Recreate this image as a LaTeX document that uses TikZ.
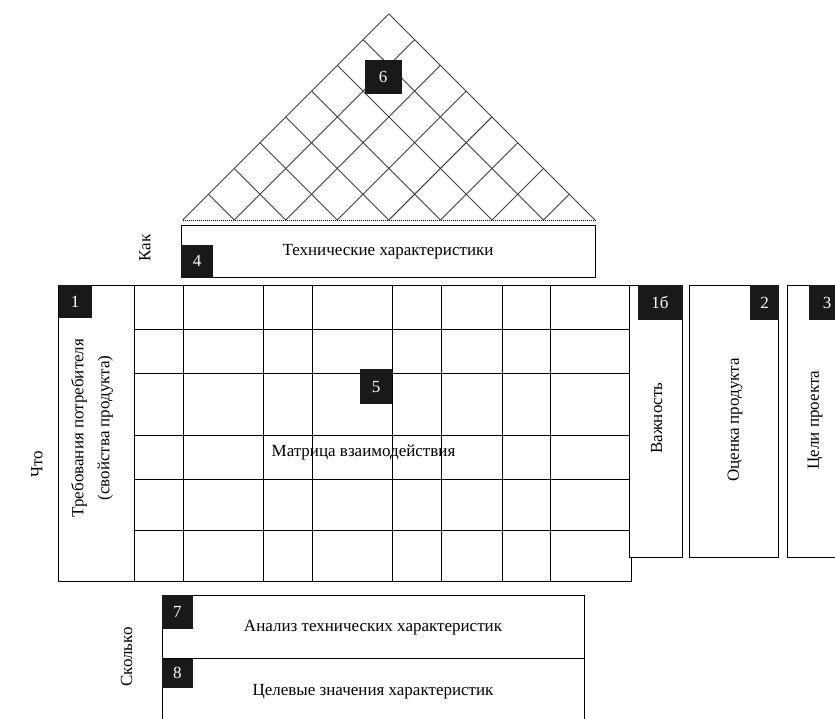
\documentclass[tikz,border=0pt]{standalone}
\usepackage{fontspec}
\setmainfont{Liberation Serif}
\begin{document}
\begin{tikzpicture}[x=1pt,y=-1pt,
  box/.style={draw, line width=1pt, inner sep=0, anchor=north west},
  num/.style={fill=black!90, text=white, inner sep=0, font=\fontsize{17}{17}\selectfont},
  lbl/.style={font=\fontsize{17}{26}\selectfont, inner sep=0, align=center},
  gridline/.style={line width=0.9pt},
  roofline/.style={line width=0.9pt, black!75}]
\useasboundingbox (0,0) rectangle (835,718);
\clip (0,0) rectangle (835,718);

% roof
\foreach \i in {0,...,8}{
  \pgfmathsetmacro{\xb}{182.7+51.54*\i}
  \pgfmathsetmacro{\xr}{(\xb+595)/2}
  \pgfmathsetmacro{\yr}{220-(595-\xb)/2}
  \pgfmathsetmacro{\xl}{(\xb+182.7)/2}
  \pgfmathsetmacro{\yl}{220-(\xb-182.7)/2}
  \draw[roofline] (\xb,220) -- (\xr,\yr);
  \draw[roofline] (\xb,220) -- (\xl,\yl);
}
\draw[line width=1pt, densely dotted] (182.7,220) -- (595,220);
\node[num, anchor=north west, minimum width=37, minimum height=34] (n6) at (364.3,60) {6};

% technical characteristics
\node[box, minimum width=414, minimum height=52] (tech) at (181,225) {};
\node[num, anchor=south west, minimum width=32, minimum height=33] (n4) at (tech.south west) {4};
\node[lbl] (techt) at (388,252) {Технические характеристики};
\node[lbl, rotate=90] (kak) at (145,248) {Как};

% matrix
\node[box, minimum width=572.7, minimum height=295.7] (mat) at (58.3,285) {};
\foreach \y in {329.3,373.3,435.7,479.3,530.7}
  \draw[gridline] (134,\y) -- (631,\y);
\foreach \x in {134,183.3,263.3,312.3,392.3,441,502.3,550.7}
  \draw[gridline] (\x,285) -- (\x,580.7);
\node[num, anchor=north west, minimum width=33, minimum height=33] (n1) at (mat.north west) {1};
\node[num, anchor=north west, minimum width=32, minimum height=35] (n5) at (360,369) {5};
\node[lbl] (matt) at (363.5,452) {Матрица взаимодействия};
\node[lbl, rotate=90] (req) at (92,428) {Требования потребителя\\(свойства продукта)};
\node[lbl, rotate=90] (chto) at (37,464) {Что};

% right columns
\node[box, fill=white, minimum width=52.4, minimum height=271.7] (imp) at (629.3,285) {};
\node[num, anchor=north east, minimum width=45, minimum height=35] (n1b) at (imp.north east) {1б};
\node[lbl, rotate=90] (impt) at (656.7,418) {Важность};

\node[box, minimum width=89.3, minimum height=271.7] (eval) at (689,285) {};
\node[num, anchor=north east, minimum width=29, minimum height=35] (n2) at (eval.north east) {2};
\node[lbl, rotate=90] (evalt) at (735,420) {Оценка продукта};

\node[box, minimum width=70, minimum height=271.7] (goal) at (786.7,285) {};
\node[num, anchor=north west, minimum width=36, minimum height=35] (n3) at (809,285) {3};
\node[lbl, rotate=90] (goalt) at (815,420) {Цели проекта};

% bottom
\node[box, minimum width=422.3, minimum height=63.3] (anal) at (161.7,595) {};
\node[num, anchor=north west, minimum width=31, minimum height=34] (n7) at (anal.north west) {7};
\node[lbl] (analt) at (373,628) {Анализ технических характеристик};

\node[box, minimum width=422.3, minimum height=80] (targ) at (161.7,658.3) {};
\node[num, anchor=north west, minimum width=31, minimum height=29] (n8) at (targ.north west) {8};
\node[lbl] (targt) at (373,691.7) {Целевые значения характеристик};
\node[lbl, rotate=90] (skolko) at (126.7,657) {Сколько};
\end{tikzpicture}
\end{document}
